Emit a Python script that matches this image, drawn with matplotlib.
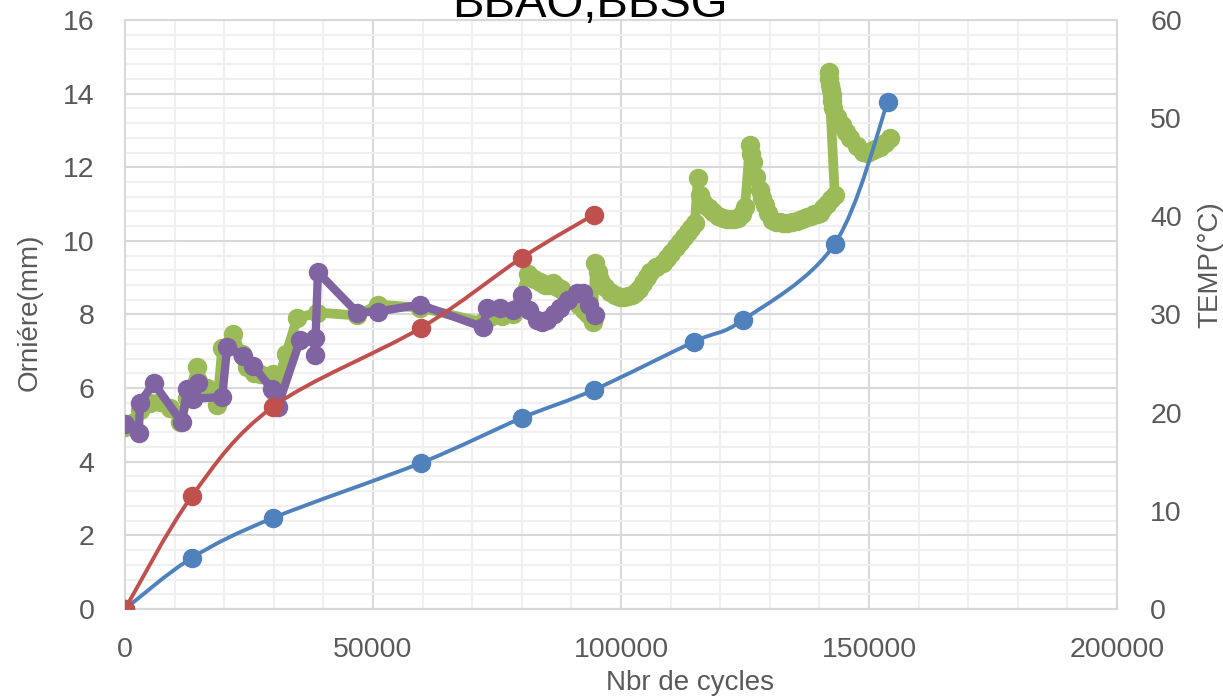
import numpy as np
import matplotlib
matplotlib.use('Agg')
import matplotlib.pyplot as plt
from matplotlib.path import Path
from matplotlib.patches import PathPatch
from matplotlib.ticker import MultipleLocator

# rutting depth (mm) vs cycles
blue_x = [0, 13500, 29800, 59700, 80000, 94500, 114700, 124600, 143100, 153800]
blue_y = [0, 1.39, 2.47, 3.97, 5.19, 5.95, 7.26, 7.85, 9.92, 13.78]
red_x = [0, 13500, 29800, 59700, 80000, 94500]
red_y = [0, 3.07, 5.49, 7.64, 9.54, 10.71]

# temperature (right axis)
green_x = [0, 1500, 3000, 5000, 7100, 9000, 11100, 12500, 14500, 16500, 18600, 19600,
           21800, 23500, 24600, 26000, 27200, 29800, 30200, 32500, 34700, 38700, 46800,
           51000, 59500, 72200, 73600, 76000, 78200, 81200, 82400, 83700, 84600, 85500,
           86300, 87100, 88000, 89000, 90700, 91600, 92500, 93400, 94300,
           94800, 95300, 95800, 96800, 97800, 98800, 99800, 100700, 101500, 102200,
           102800, 103600, 104500, 105200, 105800, 107000, 108500, 109300, 110000, 111000,
           111900, 112700, 113500, 114200, 114900, 115500, 115900, 116400, 116900, 117700,
           118500, 119500, 120600, 121300, 122000, 122800, 123600, 124300, 125000,
           126000, 126300, 126600, 127300, 128000, 128500, 129000, 129700, 130400, 131200,
           132000, 132700, 133500, 134500, 135500, 136500, 137500, 138300, 139000, 139600,
           140100, 140800, 141500, 142300, 143100,
           141900, 142000, 142100, 142300, 142500, 142600, 142700, 143600, 144600, 145400,
           146200, 147500, 148800, 149600, 150500, 151300, 152200, 153200, 154200]
green_t = [18.5, 18.9, 20.3, 21.0, 21.1, 20.5, 19.0, 21.5, 24.6, 22.5, 20.8, 26.6,
           28.0, 26.0, 24.6, 24.0, 23.9, 23.9, 22.0, 26.0, 29.6, 30.2, 29.9,
           31.0, 30.7, 29.2, 29.7, 29.8, 30.0, 34.1, 33.6, 33.3, 33.0, 33.0,
           33.2, 32.8, 32.6, 32.0, 31.5, 31.0, 30.5, 30.0, 29.2,
           35.2, 34.3, 33.5, 32.8, 32.3, 32.0, 31.8, 31.8, 31.9, 32.0,
           32.2, 32.6, 33.2, 33.8, 34.3, 34.8, 35.2, 35.8, 36.3, 36.9,
           37.4, 37.9, 38.4, 38.8, 39.3, 43.9, 42.2, 41.6, 41.2, 40.8,
           40.4, 40.0, 39.8, 39.7, 39.7, 39.7, 39.8, 40.2, 40.9,
           47.3, 46.3, 45.5, 44.0, 42.7, 41.9, 41.2, 40.3, 39.6, 39.4,
           39.4, 39.3, 39.3, 39.4, 39.5, 39.7, 39.9, 40.0, 40.2, 40.2,
           40.3, 40.8, 41.3, 41.8, 42.2,
           54.7, 54.0, 53.4, 52.9, 52.4, 51.7, 51.0, 50.1, 49.3, 48.6,
           48.0, 47.2, 46.6, 46.5, 46.7, 46.9, 47.1, 47.5, 48.0]
purple_x = [0, 2800, 3000, 5800, 11500, 12500, 14700, 13700, 19600, 20600, 23800, 25800,
            29600, 30800, 35300, 38300, 38300, 38900, 46800, 51000, 59500, 72200, 73000,
            75600, 78200, 80000, 81500, 83100, 84100, 85100, 86400, 87700, 89400, 91100,
            92300, 93500, 94800]
purple_t = [18.8, 17.9, 21.0, 23.0, 19.0, 22.4, 23.0, 21.4, 21.6, 26.7, 25.8, 24.8,
            22.4, 20.6, 27.4, 27.6, 25.9, 34.3, 30.2, 30.3, 31.0, 28.7, 30.7,
            30.7, 30.5, 32.0, 30.5, 29.4, 29.2, 29.4, 30.0, 30.7, 31.5, 32.2,
            32.2, 31.0, 29.9]

c_blue, c_red, c_green, c_purple = '#4F81BD', '#C0504D', '#9BBB59', '#8064A2'
tick_col = '#595959'
plt.rcParams['font.family'] = ['Liberation Sans', 'DejaVu Sans']


def smooth_path(xs, ys):
    # Excel-like smoothed line: Catmull-Rom as cubic Bezier segments
    pts = np.column_stack([xs, ys]).astype(float)
    verts = [pts[0]]
    codes = [Path.MOVETO]
    n = len(pts)
    for i in range(n - 1):
        p0 = pts[i - 1] if i > 0 else pts[i]
        p1, p2 = pts[i], pts[i + 1]
        p3 = pts[i + 2] if i + 2 < n else pts[i + 1]
        verts += [p1 + (p2 - p0) / 6.0, p2 - (p3 - p1) / 6.0, p2]
        codes += [Path.CURVE4] * 3
    return Path(verts, codes)


fig = plt.figure(figsize=(12.23, 6.99), dpi=100)
ax1 = fig.add_axes([0.1022, 0.1288, 0.8111, 0.8426])
ax1.set_xlim(0, 200000)
ax1.set_ylim(0, 16)
ax1.xaxis.set_major_locator(MultipleLocator(50000))
ax1.xaxis.set_minor_locator(MultipleLocator(10000))
ax1.yaxis.set_major_locator(MultipleLocator(2))
ax1.yaxis.set_minor_locator(MultipleLocator(0.4))
ax1.grid(which='major', color='#D9D9D9', linewidth=1.5)
ax1.grid(which='minor', color='#F0F0F0', linewidth=1.5)
ax1.set_axisbelow(True)
for s in ax1.spines.values():
    s.set_color('#D9D9D9')
    s.set_linewidth(1.5)
ax1.tick_params(which='both', length=0, labelsize=20.5, labelcolor=tick_col)
ax1.tick_params(axis='x', pad=20)
ax1.tick_params(axis='y', pad=22)

ax2 = ax1.twinx()
ax2.set_ylim(0, 60)
ax2.yaxis.set_major_locator(MultipleLocator(10))
ax2.tick_params(length=0, labelsize=20.5, labelcolor=tick_col, pad=24)
for s in ax2.spines.values():
    s.set_visible(False)

ax2.plot(green_x, green_t, color=c_green, linewidth=7, marker='o', markersize=13,
         zorder=2, solid_joinstyle='round')
ax2.plot(purple_x, purple_t, color=c_purple, linewidth=6, marker='o', markersize=13,
         zorder=3, solid_joinstyle='round')
ax2.add_patch(PathPatch(smooth_path(blue_x, blue_y), fill=False, edgecolor=c_blue,
                        linewidth=2.8, transform=ax1.transData, zorder=4))
ax2.plot(blue_x, blue_y, linestyle='none', marker='o', markersize=13, color=c_blue,
         transform=ax1.transData, zorder=4)
ax2.add_patch(PathPatch(smooth_path(red_x, red_y), fill=False, edgecolor=c_red,
                        linewidth=2.8, transform=ax1.transData, zorder=5))
ax2.plot(red_x, red_y, linestyle='none', marker='o', markersize=13, color=c_red,
         transform=ax1.transData, zorder=5)
ax2.set_xlim(0, 200000)
ax2.set_ylim(0, 60)

fig.text(590 / 1223, 1 - 17 / 699, 'BBAO,BBSG', fontsize=34, ha='center',
         va='baseline', color='black')
fig.text(690 / 1223, 1 - 683 / 699, 'Nbr de cycles', fontsize=20, ha='center',
         va='center', color=tick_col)
fig.text(30 / 1223, 1 - 312 / 699, 'Orniére(mm)', fontsize=20, ha='center',
         va='center', rotation=90, color=tick_col)
fig.text(1210 / 1223, 1 - 265 / 699, 'TEMP(°C)', fontsize=20, ha='center',
         va='center', rotation=90, color=tick_col)

fig.savefig('out.png', dpi=100)
